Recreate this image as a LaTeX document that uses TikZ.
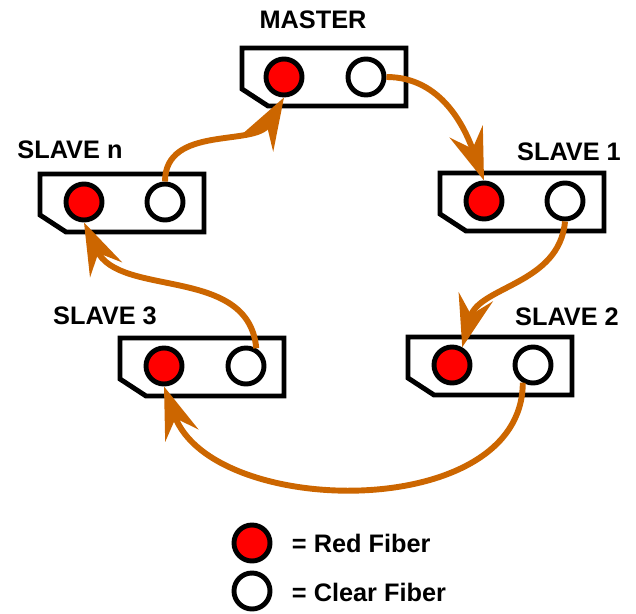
\documentclass[tikz,border=0pt]{standalone}
\usepackage{fontspec}
\setmainfont{Liberation Sans}
\usetikzlibrary{arrows.meta}
\definecolor{linkorange}{HTML}{CC6600}
\definecolor{fibred}{HTML}{FF0000}

\begin{document}
\begin{tikzpicture}[x=0.025cm,y=0.025cm,
  board/.style={line width=3.5pt},
  redfiber/.style={circle,draw,line width=3.5pt,fill=fibred,minimum size=0.9cm,inner sep=0pt},
  clearfiber/.style={circle,draw,line width=3.5pt,fill=white,minimum size=0.9cm,inner sep=0pt},
  link/.style={draw=linkorange,line width=4.2pt,-{Stealth[length=37pt,width=25pt,inset=13pt]}},
  tag/.style={font=\bfseries\fontsize{18}{20}\selectfont,anchor=base}]
 \useasboundingbox (0,0) rectangle (636,613);

 % boards
 \draw[board] (242,565) -- ++(164,0) -- ++(0,-58) -- ++(-138,0) -- ++(-26,17) -- cycle;
 \draw[board] (40,439) -- ++(164,0) -- ++(0,-58) -- ++(-138,0) -- ++(-26,17) -- cycle;
 \draw[board] (440,440) -- ++(164,0) -- ++(0,-58) -- ++(-138,0) -- ++(-26,17) -- cycle;
 \draw[board] (120,275) -- ++(164,0) -- ++(0,-58) -- ++(-138,0) -- ++(-26,17) -- cycle;
 \draw[board] (408,276) -- ++(164,0) -- ++(0,-58) -- ++(-138,0) -- ++(-26,17) -- cycle;

 % fibers
 \node[redfiber] (m-red) at (284,536) {};
 \node[clearfiber] (m-clr) at (366,536) {};
 \node[redfiber] (sn-red) at (84,411) {};
 \node[clearfiber] (sn-clr) at (165,411) {};
 \node[redfiber] (s1-red) at (484,412) {};
 \node[clearfiber] (s1-clr) at (565,412) {};
 \node[redfiber] (s3-red) at (164,247) {};
 \node[clearfiber] (s3-clr) at (246,247) {};
 \node[redfiber] (s2-red) at (452,248) {};
 \node[clearfiber] (s2-clr) at (533,248) {};

 % labels
 \node[tag] (m-tag) at (313,584) {MASTER};
 \node[tag] (sn-tag) at (70,454) {SLAVE n};
 \node[tag] (s1-tag) at (569,452) {SLAVE 1};
 \node[tag] (s3-tag) at (105,289) {SLAVE 3};
 \node[tag] (s2-tag) at (567,288) {SLAVE 2};

 % ring
 \draw[link] (m-clr.east) to[out=0,in=110] (s1-red.north);
 \draw[link] (s1-clr.south) to[out=-95,in=75] (s2-red.60);
 \draw[link] (s2-clr.240) to[out=-90,in=-70] (s3-red.south);
 \draw[link] (s3-clr.60) to[out=95,in=-65] (sn-red.south);
 \draw[link] (sn-clr.north) to[out=90,in=-120] (m-red.south);

 % legend
 \node[redfiber] (key-red) at (252,70) {};
 \node[clearfiber] (key-clr) at (252,22) {};
 \node[tag,anchor=base west] (key-red-txt) at (287,61) {= Red Fiber};
 \node[tag,anchor=base west] (key-clr-txt) at (287,12) {= Clear Fiber};
\end{tikzpicture}
\end{document}
